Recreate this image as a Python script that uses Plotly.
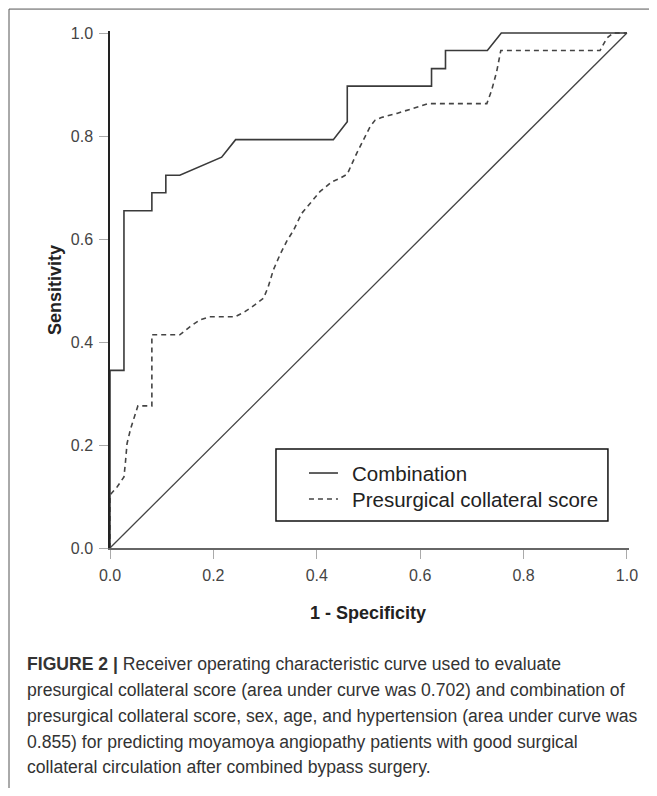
import plotly.graph_objects as go

# ---- data ----
combo_fpr = [0, 0, 0.027, 0.027, 0.081, 0.081, 0.108, 0.108, 0.135, 0.216, 0.243,
             0.432, 0.459, 0.459, 0.622, 0.622, 0.649, 0.649, 0.730, 0.757, 1.0]
combo_tpr = [0, 0.345, 0.345, 0.655, 0.655, 0.690, 0.690, 0.724, 0.724, 0.759, 0.793,
             0.793, 0.828, 0.897, 0.897, 0.931, 0.931, 0.966, 0.966, 1.0, 1.0]

score_fpr = [0, 0, 0.014, 0.027, 0.030, 0.033, 0.040, 0.050, 0.054, 0.081, 0.081,
             0.135, 0.155, 0.174, 0.193, 0.242, 0.261, 0.280, 0.297, 0.306, 0.316,
             0.329, 0.342, 0.355, 0.371, 0.387, 0.406, 0.429, 0.445, 0.459, 0.467,
             0.477, 0.490, 0.503, 0.513, 0.525, 0.555, 0.587, 0.616, 0.729, 0.738,
             0.748, 0.756, 0.948, 0.961, 0.973, 1.0]
score_tpr = [0, 0.103, 0.119, 0.138, 0.168, 0.203, 0.232, 0.262, 0.276, 0.276, 0.414,
             0.414, 0.430, 0.443, 0.449, 0.449, 0.459, 0.472, 0.485, 0.507, 0.540,
             0.570, 0.596, 0.617, 0.650, 0.669, 0.692, 0.711, 0.718, 0.726, 0.744,
             0.766, 0.792, 0.818, 0.831, 0.836, 0.844, 0.854, 0.863, 0.863, 0.888,
             0.925, 0.966, 0.966, 0.990, 1.0, 1.0]

ref_x = [0, 1]
ref_y = [0, 1]

tick_vals = [0.0, 0.2, 0.4, 0.6, 0.8, 1.0]
tick_text = ["0.0", "0.2", "0.4", "0.6", "0.8", "1.0"]

legend_names = ["Combination", "Presurgical collateral score"]

caption_lines = [
    "<b>FIGURE 2 |</b> Receiver operating characteristic curve used to evaluate",
    "presurgical collateral score (area under curve was 0.702) and combination of",
    "presurgical collateral score, sex, age, and hypertension (area under curve was",
    "0.855) for predicting moyamoya angiopathy patients with good surgical",
    "collateral circulation after combined bypass surgery.",
]

# ---- layout geometry (window pixels of the reference) ----
WIN_W, WIN_H = 657, 796
OFF = 8                       # default page body margin
W, H = WIN_W - 2 * OFF, WIN_H - 2 * OFF
X0, X1 = 110, 627             # window pixel of x=0 and x=1
Y0, Y1 = 548, 33              # window pixel of y=0 and y=1
EXT = 0.004
sx = (X1 - X0)
sy = (Y0 - Y1)

def px(p):  # window pixel x -> paper x
    return (p - X0) / (sx * (1 + EXT))

def py(p):  # window pixel y -> paper y
    return (Y0 - p) / (sy * (1 + EXT))

FONT = "Liberation Sans, Arial, Helvetica, sans-serif"
LINE_COL = "#3a3a3a"

fig = go.Figure()
fig.add_trace(go.Scatter(x=ref_x, y=ref_y, mode="lines",
                         line=dict(color="#444444", width=1.3),
                         showlegend=False, hoverinfo="skip"))
fig.add_trace(go.Scatter(x=score_fpr, y=score_tpr, mode="lines", name=legend_names[1],
                         line=dict(color="#444444", width=1.6, dash="5px,4px"),
                         showlegend=False))
fig.add_trace(go.Scatter(x=combo_fpr, y=combo_tpr, mode="lines", name=legend_names[0],
                         line=dict(color=LINE_COL, width=1.6),
                         showlegend=False))

shapes = []
annotations = []

# legend box (manual)
shapes.append(dict(type="rect", xref="paper", yref="paper",
                   x0=px(276), x1=px(608), y0=py(521), y1=py(449),
                   line=dict(color="#111111", width=1.5), fillcolor="white", layer="below"))
shapes.append(dict(type="line", xref="paper", yref="paper",
                   x0=px(309), x1=px(338), y0=py(473), y1=py(473),
                   line=dict(color=LINE_COL, width=1.6)))
shapes.append(dict(type="line", xref="paper", yref="paper",
                   x0=px(309), x1=px(338), y0=py(499), y1=py(499),
                   line=dict(color="#444444", width=1.6, dash="5px,4px")))
for name, yy in zip(legend_names, [473, 499]):
    annotations.append(dict(text=name, xref="paper", yref="paper", x=px(350), y=py(yy),
                            xanchor="left", yanchor="middle", showarrow=False,
                            font=dict(family=FONT, size=20.5, color="#222222")))

# outer frame (left and top edges of figure box)
shapes.append(dict(type="line", xref="paper", yref="paper",
                   x0=px(9), x1=px(9), y0=py(9), y1=py(WIN_H + 10),
                   line=dict(color="#555555", width=1)))
shapes.append(dict(type="line", xref="paper", yref="paper",
                   x0=px(9), x1=px(WIN_W + 10), y0=py(9), y1=py(9),
                   line=dict(color="#555555", width=1)))

# axis titles
annotations.append(dict(text="<b>1 - Specificity</b>", xref="paper", yref="paper",
                        x=px(368), y=py(613), xanchor="center", yanchor="middle",
                        showarrow=False, font=dict(family=FONT, size=18, color="#222222")))
annotations.append(dict(text="<b>Sensitivity</b>", xref="paper", yref="paper",
                        x=px(55), y=py(290), xanchor="center", yanchor="middle",
                        textangle=-90, showarrow=False,
                        font=dict(family=FONT, size=18, color="#222222")))

# caption
cap_y = [664, 690, 716, 742, 767]
for line, yy in zip(caption_lines, cap_y):
    annotations.append(dict(text=line, xref="paper", yref="paper", x=px(25), y=py(yy),
                            xanchor="left", yanchor="middle", showarrow=False,
                            font=dict(family=FONT, size=17.6, color="#333333")))

plot_top = Y0 - sy * (1 + EXT)
plot_right = X0 + sx * (1 + EXT)

tick_font = dict(family=FONT, size=16, color="#444444")
fig.update_layout(
    width=W, height=H,
    margin=dict(l=X0 - OFF, r=W - (plot_right - OFF), t=plot_top - OFF,
                b=H - (Y0 - OFF), pad=0),
    paper_bgcolor="white", plot_bgcolor="white",
    shapes=shapes, annotations=annotations,
    showlegend=False,
    xaxis=dict(range=[0, 1 + EXT], tickvals=tick_vals, ticktext=tick_text,
               showgrid=False, zeroline=False, showline=True,
               linecolor="#666666", linewidth=2,
               ticks="outside", ticklen=9, tickcolor="#aaaaaa", tickwidth=1,
               tickfont=tick_font, ticklabelstandoff=3,
               automargin=False, fixedrange=True),
    yaxis=dict(range=[0, 1 + EXT], tickvals=tick_vals, ticktext=tick_text,
               showgrid=False, zeroline=False, showline=True,
               linecolor="#222222", linewidth=1.5,
               ticks="outside", ticklen=9, tickcolor="#aaaaaa", tickwidth=1,
               tickfont=tick_font, ticklabelstandoff=3,
               automargin=False, fixedrange=True),
)

fig.write_html("out.html")
